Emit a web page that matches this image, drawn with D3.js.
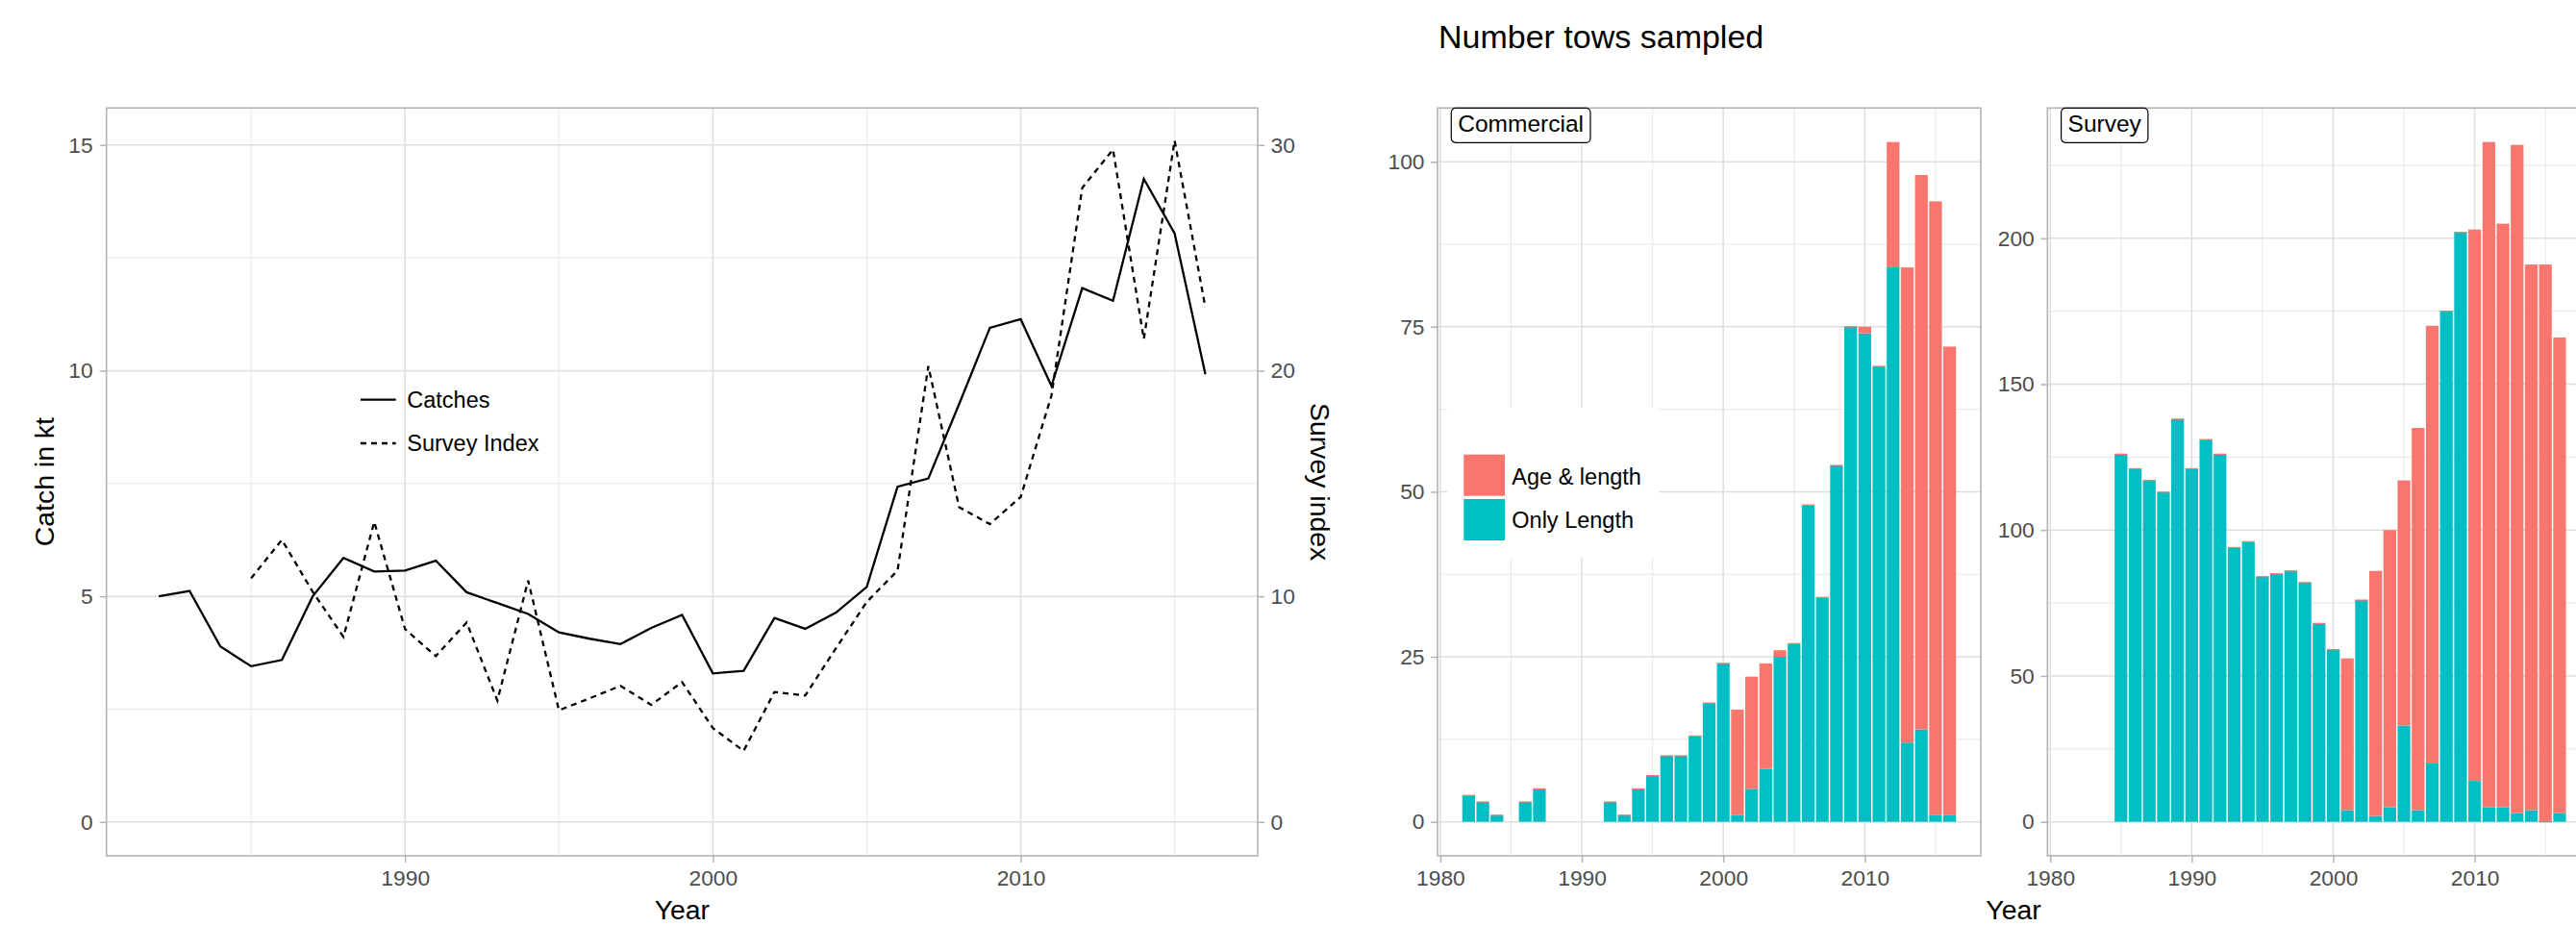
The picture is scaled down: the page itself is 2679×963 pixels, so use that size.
<!DOCTYPE html>
<html>
<head>
<meta charset="utf-8">
<script src="https://cdn.jsdelivr.net/npm/d3@7"></script>
<style>
    body { margin: 0; background: #fff; }
    svg { display: block; font-family: "Liberation Sans", Arial, sans-serif; }
    .axis path { display: none; }
    .axis line { stroke: #B3B3B3; stroke-width: 1.5; }
    .axis text { fill: #4D4D4D; font-size: 22.8px; font-family: "Liberation Sans", Arial, sans-serif; }
</style>
</head>
<body>
<div id="chart"></div>
<script>
// catches (kt) and survey index, left plot
const catchYears = [1982, 1983, 1984, 1985, 1986, 1987, 1988, 1989, 1990, 1991, 1992, 1993, 1994, 1995, 1996, 1997, 1998, 1999,
    2000, 2001, 2002, 2003, 2004, 2005, 2006, 2007, 2008, 2009, 2010, 2011, 2012, 2013, 2014, 2015, 2016];
const catches = [5.0, 5.12, 3.89, 3.45, 3.59, 5.0, 5.85, 5.55, 5.57, 5.79, 5.09, 4.85, 4.61, 4.2, 4.06, 3.94, 4.3, 4.59,
    3.29, 3.35, 4.52, 4.28, 4.64, 5.21, 7.43, 7.61, 9.26, 10.95, 11.14, 9.66, 11.83, 11.55, 14.25, 13.04, 9.92];

const surveyYears = [1985, 1986, 1987, 1988, 1989, 1990, 1991, 1992, 1993, 1994, 1995, 1996, 1997, 1998, 1999,
    2000, 2001, 2002, 2003, 2004, 2005, 2006, 2007, 2008, 2009, 2010, 2011, 2012, 2013, 2014, 2015, 2016];
const surveyIndex = [10.8, 12.5, 10.2, 8.2, 13.3, 8.55, 7.35, 8.84, 5.38, 10.7, 4.95, 5.48, 6.03, 5.19, 6.2,
    4.16, 3.15, 5.76, 5.6, 7.7, 9.75, 11.14, 20.2, 13.95, 13.2, 14.4, 18.9, 28.1, 29.8, 21.4, 30.2, 22.8];

// number of tows sampled, right plot
const comYears = [1982, 1983, 1984, 1986, 1987, 1992, 1993, 1994, 1995, 1996, 1997, 1998, 1999, 2000,
    2001, 2002, 2003, 2004, 2005, 2006, 2007, 2008, 2009, 2010, 2011, 2012, 2013, 2014, 2015, 2016];
const comOnlyLength = [4, 3, 1, 3, 5, 3, 1, 5, 7, 10, 10, 13, 18, 24,
    1, 5, 8, 25, 27, 48, 34, 54, 75, 74, 69, 84, 12, 14, 1, 1];
const comAgeLength = [0, 0, 0, 0, 0, 0, 0, 0, 0, 0, 0, 0, 0, 0,
    16, 17, 16, 1, 0, 0, 0, 0, 0, 1, 0, 19, 72, 84, 93, 71];

const surYears = [1985, 1986, 1987, 1988, 1989, 1990, 1991, 1992, 1993, 1994, 1995, 1996, 1997, 1998, 1999,
    2000, 2001, 2002, 2003, 2004, 2005, 2006, 2007, 2008, 2009, 2010, 2011, 2012, 2013, 2014, 2015, 2016];
const surOnlyLength = [126, 121, 117, 113, 138, 121, 131, 126, 94, 96, 84, 85, 86, 82, 68,
    59, 4, 76, 2, 5, 33, 4, 20, 175, 202, 14, 5, 5, 3, 4, 0, 3];
const surAgeLength = [0, 0, 0, 0, 0, 0, 0, 0, 0, 0, 0, 0, 0, 0, 0,
    0, 52, 0, 84, 95, 84, 131, 150, 0, 0, 189, 228, 200, 229, 187, 191, 163];

const lineLabels = ["Catches", "Survey Index"];
const barLabels = ["Age & length", "Only Length"];
const barColors = ["#F8766D", "#00BFC4"];

const W = 2679, H = 963;
const panelTop = 112.3, ph = 777.7;
const lineW = 2.3, dash = "6 5";

const svg = d3.select("#chart").append("svg")
    .attr("width", W)
    .attr("height", H);

function drawGrid(g, x, y, w, h, xMaj, xMin, yMaj, yMin) {
    const grid = g.append("g");
    grid.selectAll(".xmin").data(xMin).enter().append("line")
        .attr("x1", d => x(d)).attr("x2", d => x(d)).attr("y1", 0).attr("y2", h)
        .attr("stroke", "#E4E4E4").attr("stroke-width", 0.9);
    grid.selectAll(".ymin").data(yMin).enter().append("line")
        .attr("x1", 0).attr("x2", w).attr("y1", d => y(d)).attr("y2", d => y(d))
        .attr("stroke", "#E4E4E4").attr("stroke-width", 0.9);
    grid.selectAll(".xmaj").data(xMaj).enter().append("line")
        .attr("x1", d => x(d)).attr("x2", d => x(d)).attr("y1", 0).attr("y2", h)
        .attr("stroke", "#DEDEDE").attr("stroke-width", 1.5);
    grid.selectAll(".ymaj").data(yMaj).enter().append("line")
        .attr("x1", 0).attr("x2", w).attr("y1", d => y(d)).attr("y2", d => y(d))
        .attr("stroke", "#DEDEDE").attr("stroke-width", 1.5);
}

function border(g, w, h) {
    g.append("rect")
        .attr("width", w).attr("height", h)
        .attr("fill", "none")
        .attr("stroke", "#B3B3B3")
        .attr("stroke-width", 1.6);
}

// ---------- left: catches + survey index ----------
const left = {x: 110.7, w: 1197.3};
const lg = svg.append("g").attr("transform", `translate(${left.x},${panelTop})`);

const x = d3.scaleLinear().domain([1980.3, 2017.7]).range([0, left.w]);
const y = d3.scaleLinear().domain([-0.75, 15.82]).range([ph, 0]);
const y2 = d3.scaleLinear().domain([-1.5, 31.64]).range([ph, 0]);

drawGrid(lg, x, y, left.w, ph, [1990, 2000, 2010], [1985, 1995, 2005, 2015], [0, 5, 10, 15], [2.5, 7.5, 12.5]);

const catchLine = d3.line().x((d, i) => x(catchYears[i])).y(d => y(d));
const surveyLine = d3.line().x((d, i) => x(surveyYears[i])).y(d => y2(d));

lg.append("path")
    .attr("d", catchLine(catches))
    .attr("fill", "none")
    .attr("stroke", "#000")
    .attr("stroke-width", lineW);

lg.append("path")
    .attr("d", surveyLine(surveyIndex))
    .attr("fill", "none")
    .attr("stroke", "#000")
    .attr("stroke-width", lineW)
    .attr("stroke-dasharray", dash);

border(lg, left.w, ph);

lg.append("g").attr("class", "axis")
    .attr("transform", `translate(0,${ph})`)
    .call(d3.axisBottom(x).tickValues([1990, 2000, 2010]).tickFormat(d3.format("d")).tickSize(7).tickPadding(8));
lg.append("g").attr("class", "axis")
    .call(d3.axisLeft(y).tickValues([0, 5, 10, 15]).tickSize(7).tickPadding(7));
lg.append("g").attr("class", "axis")
    .attr("transform", `translate(${left.w},0)`)
    .call(d3.axisRight(y2).tickValues([0, 10, 20, 30]).tickSize(7).tickPadding(6.5));

// legend (no background)
const ll = svg.append("g");
lineLabels.forEach((lab, i) => {
    const yy = 415.7 + i * 45.3;
    ll.append("line")
        .attr("x1", 375).attr("x2", 411.7).attr("y1", yy).attr("y2", yy)
        .attr("stroke", "#000").attr("stroke-width", lineW)
        .attr("stroke-dasharray", i === 1 ? dash : null);
    ll.append("text")
        .attr("x", 423.3).attr("y", yy + 8.4)
        .attr("font-size", "23.5px")
        .text(lab);
});

svg.append("text")
    .attr("transform", `translate(55.5,${panelTop + ph / 2}) rotate(-90)`)
    .attr("text-anchor", "middle")
    .attr("font-size", "28.4px")
    .text("Catch in kt");

svg.append("text")
    .attr("transform", `translate(1363,${panelTop + ph / 2}) rotate(90)`)
    .attr("text-anchor", "middle")
    .attr("font-size", "28.4px")
    .text("Survey index");

svg.append("text")
    .attr("x", left.x + left.w / 2).attr("y", 956)
    .attr("text-anchor", "middle")
    .attr("font-size", "28.4px")
    .text("Year");

// ---------- right: stacked bars, two facets ----------
const fw = 565;

function facet(px, label, years, onlyLen, ageLen, yMaj, yMin) {
    const g = svg.append("g").attr("transform", `translate(${px},${panelTop})`);
    const totals = years.map((d, i) => onlyLen[i] + ageLen[i]);
    const mx = d3.max(totals);

    const fx = d3.scaleLinear().domain([1979.8, 2018.2]).range([0, fw]);
    const fy = d3.scaleLinear().domain([-0.05 * mx, 1.05 * mx]).range([ph, 0]);
    const bw = (fx(1) - fx(0)) * 0.9;

    drawGrid(g, fx, fy, fw, ph, [1980, 1990, 2000, 2010], [1985, 1995, 2005, 2015], yMaj, yMin);

    const stacked = years.map((yr, i) => ({yr: yr, a: onlyLen[i], b: ageLen[i]}));

    // only length at the bottom, age & length on top; zero counts still leave a hairline
    g.selectAll(".only").data(stacked).enter().append("rect")
        .attr("x", d => fx(d.yr) - bw / 2)
        .attr("width", bw)
        .attr("y", d => d.a > 0 ? fy(d.a) : fy(0) - 0.6)
        .attr("height", d => d.a > 0 ? fy(0) - fy(d.a) : 1.2)
        .attr("fill", barColors[1]);

    g.selectAll(".age").data(stacked).enter().append("rect")
        .attr("x", d => fx(d.yr) - bw / 2)
        .attr("width", bw)
        .attr("y", d => d.b > 0 ? fy(d.a + d.b) : fy(d.a) - 0.6)
        .attr("height", d => d.b > 0 ? fy(d.a) - fy(d.a + d.b) : 1.2)
        .attr("fill", barColors[0]);

    border(g, fw, ph);

    g.append("g").attr("class", "axis")
        .attr("transform", `translate(0,${ph})`)
        .call(d3.axisBottom(fx).tickValues([1980, 1990, 2000, 2010]).tickFormat(d3.format("d")).tickSize(7).tickPadding(8));
    g.append("g").attr("class", "axis")
        .call(d3.axisLeft(fy).tickValues(yMaj).tickSize(7).tickPadding(6.5));

    // strip label as rounded box in the top-left corner
    const strip = g.append("g").attr("transform", "translate(14.3,0)");
    const t = strip.append("text")
        .attr("x", 7).attr("y", 24.5)
        .attr("font-size", "24.5px")
        .text(label);
    const tw = t.node().getComputedTextLength();
    strip.insert("rect", "text")
        .attr("width", tw + 14).attr("height", 36)
        .attr("rx", 4.5)
        .attr("fill", "#fff")
        .attr("stroke", "#000")
        .attr("stroke-width", 1.2);
    return g;
}

facet(1495, "Commercial", comYears, comOnlyLength, comAgeLength,
    [0, 25, 50, 75, 100], [12.5, 37.5, 62.5, 87.5]);
facet(2129.3, "Survey", surYears, surOnlyLength, surAgeLength,
    [0, 50, 100, 150, 200], [25, 75, 125, 175, 225]);

// fill legend inside the commercial panel
const bl = svg.append("g");
bl.append("rect")
    .attr("x", 1505).attr("y", 424)
    .attr("width", 220).attr("height", 156)
    .attr("fill", "#fff");
barLabels.forEach((lab, i) => {
    bl.append("rect")
        .attr("x", 1522.3).attr("y", 472.7 + i * 46.3)
        .attr("width", 42.7).attr("height", 43)
        .attr("fill", barColors[i]);
    bl.append("text")
        .attr("x", 1572.3).attr("y", 503.5 + i * 45.5)
        .attr("font-size", "23.5px")
        .text(lab);
});

svg.append("text")
    .attr("x", 1496).attr("y", 50)
    .attr("font-size", "34px")
    .text("Number tows sampled");

svg.append("text")
    .attr("x", 2094).attr("y", 956)
    .attr("text-anchor", "middle")
    .attr("font-size", "28.4px")
    .text("Year");
</script>
</body>
</html>
